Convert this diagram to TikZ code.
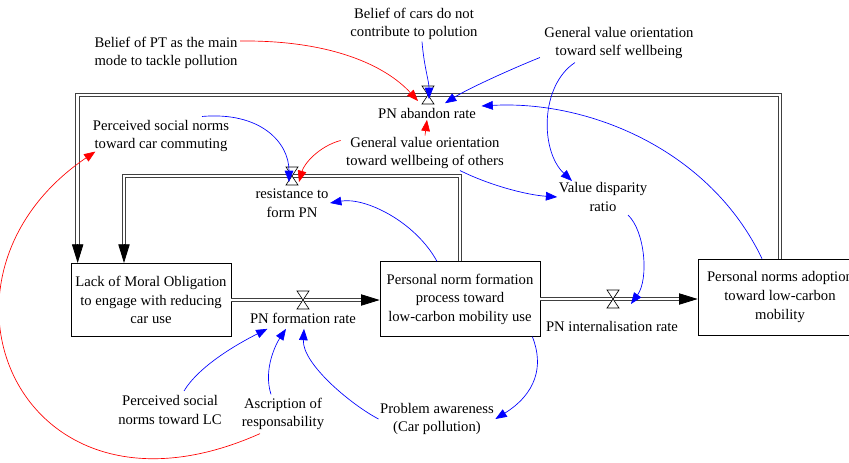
\documentclass[tikz,border=0pt]{standalone}
\usepackage{fontspec}
\setmainfont{Liberation Serif}
\usetikzlibrary{arrows.meta,calc}

\tikzset{
  stock/.style={draw, line width=0.5pt, align=center, minimum width=120pt, minimum height=55pt, inner sep=2pt},
  aux/.style={align=center, inner sep=1pt},
  pipe/.style={draw=black!75, line width=0.7pt, double=white, double distance=1.9pt},
  pipetip/.style={black, line width=0.6pt, -{Triangle[length=14pt,width=8.5pt]}},
  infl/.style={line width=0.5pt, -{Triangle[length=8.5pt,width=6.5pt]}},
  valve/.pic={\draw[fill=white, line width=0.5pt] (-6,-9) -- (6,-9) -- (-6,9) -- (6,9) -- cycle;}
}

\begin{document}
\begin{tikzpicture}[x=0.75pt,y=0.75pt,yscale=-1,xscale=1, font=\fontsize{11}{13.9}\selectfont]
\useasboundingbox (0,0) rectangle (849,462);
\clip (0,0) rectangle (849,462);

%Stocks
\node[stock] (lack) at (151,300) {Lack of Moral Obligation\\to engage with reducing\\car use};
\node[stock, minimum height=56pt] (pnf) at (460,299) {Personal norm formation\\process toward\\low-carbon mobility use};
\node[stock, minimum width=123pt, minimum height=57pt] (adopt) at (780,297) {Personal norms adoption\\toward low-carbon\\mobility};

%Valves
\coordinate (vForm) at (303,300);
\coordinate (vIntern) at (613,299);
\coordinate (vAband) at (428,95);
\coordinate (vResist) at (292,176);

%Rates and auxiliaries
\node[aux] (formRate) at (303,318) {PN formation rate};
\node[aux] (internRate) at (612,326) {PN internalisation rate};
\node[aux] (abandon) at (427,113) {PN abandon rate};
\node[aux] (resist) at (292,203) {resistance to\\form PN};
\node[aux] (beliefPT) at (166,53) {Belief of PT as the main\\mode to tackle pollution};
\node[aux] (beliefCars) at (414,24) {Belief of cars do not\\contribute to polution};
\node[aux] (selfVal) at (619,43) {General value orientation\\toward self wellbeing};
\node[aux] (socCar) at (161,136) {Perceived social norms\\toward car commuting};
\node[aux] (othersVal) at (425,153) {General value orientation\\toward wellbeing of others};
\node[aux] (disparity) at (603,197) {Value disparity\\ratio};
\node[aux] (socLC) at (170,410) {Perceived social\\norms toward LC};
\node[aux] (ascript) at (283,414) {Ascription of\\responsability};
\node[aux] (awareness) at (437,419) {Problem awareness\\(Car pollution)};

%Flows
\coordinate (formEnd) at (lack.east -| pnf.west);
\draw[pipe] (lack.east) -- ($(formEnd)+(-18,0)$);
\draw[pipetip] ($(formEnd)+(-19,0)$) -- (formEnd);

\coordinate (inEnd) at (pnf.east -| adopt.west);
\draw[pipe] (pnf.east) -- ($(inEnd)+(-18,0)$);
\draw[pipetip] ($(inEnd)+(-19,0)$) -- (inEnd);

\coordinate (abEnd) at ($(lack.north west)+(7,0)$);
\draw[pipe] (adopt.north) |- (vAband) -| ($(abEnd)+(0,-18)$);
\draw[pipetip] ($(abEnd)+(0,-19)$) -- (abEnd);

\coordinate (rsEnd) at ($(lack.north)+(-27,0)$);
\draw[pipe] (pnf.north) |- (vResist) -| ($(rsEnd)+(0,-18)$);
\draw[pipetip] ($(rsEnd)+(0,-19)$) -- (rsEnd);

\pic at (vForm) {valve};
\pic at (vIntern) {valve};
\pic at (vAband) {valve};
\pic at (vResist) {valve};

%Influences
\draw[infl, red] ($(beliefPT.east)+(1,-12)$) .. controls +(90,-1) and +(-33,-36) .. ($(vAband)+(-10,6)$);
\draw[infl, blue] ($(beliefCars.south)+(8,0)$) .. controls +(2,25) and +(0,-18) .. ($(vAband)+(1,4)$);
\draw[infl, blue] ($(selfVal.south west)+(-3,-3)$) .. controls +(-30,12) and +(22,-14) .. ($(abandon.north)+(18,-3)$);
\draw[infl, blue] ($(selfVal.south)+(-44,2)$) .. controls +(-35,23) and +(-32,-30) .. ($(disparity.north)+(-31,0)$);
\draw[infl, blue] ($(adopt.north)+(-18,0)$) .. controls +(-52,-109) and +(107,-6) .. ($(abandon.east)+(4,-7)$);
\draw[infl, red] (othersVal.north) -- (abandon.south);
\draw[infl, red] ($(othersVal.north west)+(-4,5)$) .. controls +(-22,6) and +(5,-18) .. ($(vResist)+(7,6)$);
\draw[infl, blue] ($(socCar.north)+(41,-2)$) .. controls +(58,-5) and +(0,-40) .. ($(vResist)+(-3,6)$);
\draw[infl, blue] ($(othersVal.south)+(35,0)$) .. controls +(30,15) and +(-30,-2) .. (disparity.west);
\draw[infl, blue] ($(pnf.north)+(-23,0)$) .. controls +(-22,-40) and +(35,-6) .. (resist.east);
\draw[infl, blue] ($(disparity.south)+(25,2)$) .. controls +(17,16) and +(18,-25) .. ($(vIntern)+(18,5)$);
\draw[infl, blue] ($(pnf.south east)+(-8,0)$) .. controls +(12,30) and +(40,-25) .. (awareness.east);
\draw[infl, blue] (awareness.west) .. controls +(-27,-14) and +(-2,35) .. ($(formRate.south)+(1,4)$);
\draw[infl, blue] ($(ascript.north)+(-12,-2)$) .. controls +(-8,-25) and +(-10,15) .. ($(formRate.south)+(-17,4)$);
\draw[infl, blue] ($(socLC.north)+(14,-3)$) .. controls +(15,-25) and +(-30,15) .. ($(formRate.south west)+(19,4)$);
\draw[infl, red] ($(ascript.south)+(-23,2)$) .. controls +(-240,107) and +(-187,127) .. ($(socCar.south west)+(4,-2)$);

\end{tikzpicture}
\end{document}
